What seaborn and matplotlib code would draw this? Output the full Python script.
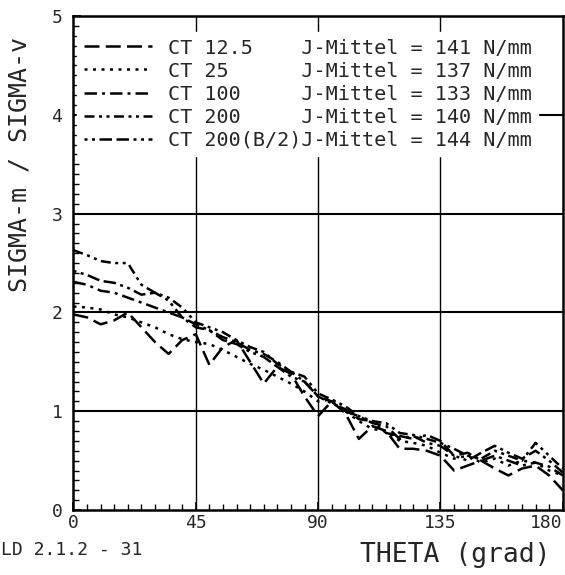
import numpy as np
import pandas as pd
import matplotlib
matplotlib.use("Agg")
import matplotlib.pyplot as plt
import seaborn as sns

# winkel in grad
theta = [0, 5, 10, 15, 20, 25, 30, 35, 40, 45, 50, 55, 60, 65, 70, 75, 80, 85,
         90, 95, 100, 105, 110, 115, 120, 125, 130, 135, 140, 145, 150, 155,
         160, 165, 170, 175, 180]

ct_12_5 = [1.98, 1.95, 1.88, 1.92, 2.00, 1.85, 1.70, 1.58, 1.72, 1.78, 1.47, 1.65,
           1.72, 1.50, 1.28, 1.45, 1.38, 1.15, 0.95, 1.10, 0.98, 0.72, 0.85, 0.80,
           0.62, 0.62, 0.60, 0.55, 0.40, 0.45, 0.50, 0.42, 0.35, 0.42, 0.45, 0.35, 0.20]
ct_25 = [2.06, 2.05, 2.03, 1.98, 1.95, 1.90, 1.85, 1.78, 1.73, 1.70, 1.68, 1.62,
         1.55, 1.48, 1.42, 1.35, 1.28, 1.20, 1.10, 1.12, 1.00, 0.90, 0.82, 0.80,
         0.70, 0.68, 0.65, 0.58, 0.52, 0.55, 0.48, 0.52, 0.45, 0.50, 0.48, 0.40, 0.35]
ct_100 = [2.31, 2.28, 2.22, 2.20, 2.15, 2.10, 2.05, 2.00, 1.95, 1.85, 1.82, 1.75,
          1.70, 1.62, 1.58, 1.50, 1.40, 1.30, 1.15, 1.10, 1.00, 0.95, 0.88, 0.85,
          0.72, 0.75, 0.68, 0.65, 0.55, 0.58, 0.50, 0.55, 0.50, 0.45, 0.48, 0.44, 0.35]
ct_200 = [2.63, 2.58, 2.52, 2.50, 2.50, 2.28, 2.20, 2.15, 2.05, 1.90, 1.85, 1.80,
          1.72, 1.65, 1.60, 1.48, 1.40, 1.35, 1.18, 1.12, 1.05, 0.95, 0.90, 0.88,
          0.78, 0.76, 0.72, 0.68, 0.62, 0.55, 0.52, 0.60, 0.55, 0.50, 0.68, 0.55, 0.42]
ct_200_b2 = [2.42, 2.38, 2.32, 2.30, 2.25, 2.18, 2.20, 2.12, 1.95, 1.88, 1.82, 1.72,
             1.68, 1.60, 1.55, 1.45, 1.35, 1.30, 1.15, 1.08, 1.02, 0.92, 0.90, 0.78,
             0.75, 0.72, 0.76, 0.70, 0.55, 0.50, 0.58, 0.65, 0.58, 0.52, 0.60, 0.50, 0.38]

names = ["12.5", "25", "100", "200", "200(B/2)"]
j_mittel = [141, 137, 133, 140, 144]

series = [ct_12_5, ct_25, ct_100, ct_200, ct_200_b2]
df = pd.concat([pd.DataFrame({"theta": theta, "ratio": s, "probe": n})
                for n, s in zip(names, series)])

dashes = {
    "12.5": (6, 2.5),
    "25": (1.2, 2.2),
    "100": (5, 2, 1.2, 2),
    "200": (4, 1.8, 1.2, 1.8, 1.2, 1.8),
    "200(B/2)": (1.2, 1.8, 1.2, 1.8, 5, 1.8, 5, 1.8),
}

sns.set_style("white")
plt.rcParams['font.family'] = ['DejaVu Sans Mono', 'DejaVu Sans']

fig = plt.figure(figsize=(5.65, 5.75), dpi=100)
ax = fig.add_axes([0.130, 0.113, 0.866, 0.859])

sns.lineplot(data=df, x="theta", y="ratio", style="probe", dashes=dashes,
             color="black", linewidth=1.8, estimator=None, sort=False, ax=ax)

# gitter
for yv in [1, 2, 3, 4]:
    ax.axhline(yv, color="black", lw=1.5, zorder=0)
for xv in [45, 90, 135]:
    ax.axvline(xv, color="black", lw=1.0, zorder=0)

ax.set_xlim(0, 180)
ax.set_ylim(0, 5)
ax.set_xticks([0, 45, 90, 135, 180])
ax.set_yticks([0, 1, 2, 3, 4, 5])
ax.set_xticks(np.arange(0, 181, 5), minor=True)
ax.set_yticks(np.arange(0, 5.01, 0.1), minor=True)
ax.tick_params(which="both", direction="in", color="black", bottom=True, left=True)
ax.tick_params(which="major", length=6, width=1.2, labelsize=13)
ax.tick_params(axis="x", which="major", pad=3)
ax.tick_params(axis="y", which="major", pad=8)
ax.tick_params(which="minor", length=4, width=1.0)
ax.get_xticklabels()[-1].set_horizontalalignment("right")
for sp in ax.spines.values():
    sp.set_color("black")
    sp.set_linewidth(1.8)

ax.set_xlabel("THETA (grad)", fontsize=19)
ax.xaxis.set_label_coords(0.78, -0.065)
ax.set_ylabel("SIGMA-m / SIGMA-v", fontsize=18)
ax.yaxis.set_label_coords(-0.085, 0.70)

handles, labels = ax.get_legend_handles_labels()
new_labels = [f"CT {n:<8}J-Mittel = {j} N/mm" for n, j in zip(names, j_mittel)]
leg = ax.legend(handles[-5:], new_labels, loc="upper left", bbox_to_anchor=(0.0, 0.975),
                frameon=True, framealpha=1.0, edgecolor="white", fontsize=14.5,
                handlelength=3.4, handletextpad=0.8, labelspacing=0.2,
                borderpad=0.3, borderaxespad=0.2)
for line in leg.get_lines():
    line.set_linewidth(1.8)

fig.text(0.002, 0.035, "LD 2.1.2 - 31", fontsize=13)

fig.savefig("out.png", dpi=100)
